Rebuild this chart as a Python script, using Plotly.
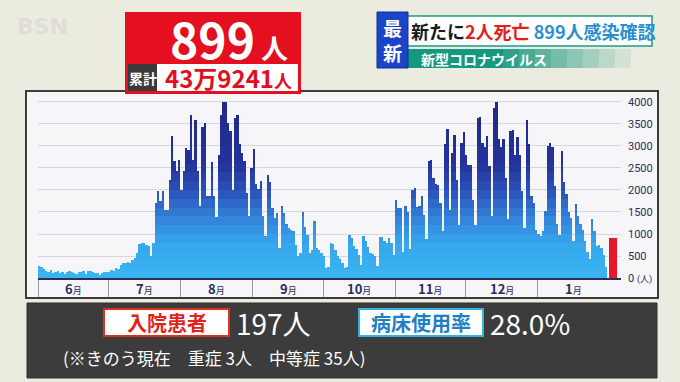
import plotly.graph_objects as go
import numpy as np

# ---------------- data (daily new cases, Jun 1 - Jan 30, plus today) ----------------
months = ["6月", "7月", "8月", "9月", "10月", "11月", "12月", "1月"]
jun = [270, 260, 200, 170, 140, 190, 110, 130, 150, 120, 140, 100, 130, 150, 140, 110, 90, 130, 140, 160,
       90, 170, 150, 140, 120, 110, 70, 120, 140, 130]
jul = [140, 180, 160, 230, 200, 300, 330, 340, 360, 330, 400, 450, 560, 780, 800, 790, 760, 720, 490, 800,
       1700, 1970, 1740, 1970, 1550, 1550, 2210, 3220, 2650, 2430, 2690]
aug = [1990, 2430, 2960, 2920, 3700, 2690, 3580, 2430, 1630, 3410, 3520, 1860, 1860, 2620, 1860, 1380, 2800,
       3710, 4000, 4000, 3520, 3330, 2000, 3640, 3700, 3030, 2820, 2650, 1930, 1400, 2490]
sep = [2940, 2140, 2010, 2200, 1400, 950, 2330, 2180, 1590, 1360, 1480, 680, 1630, 1480, 1210, 1140, 1100,
       1060, 760, 490, 570, 1500, 1150, 985, 570, 620, 1300, 680, 620, 570]
octo = [500, 230, 250, 800, 780, 640, 490, 420, 340, 230, 250, 970, 910, 720, 670, 530, 300, 950, 830, 700,
        570, 545, 490, 265, 925, 925, 830, 800, 910, 800, 530]
nov = [1780, 1580, 1580, 600, 1640, 1490, 660, 1990, 2050, 1610, 1630, 1870, 1420, 890, 2670, 2690, 2270,
       2140, 2120, 1700, 1060, 3030, 3390, 1550, 2850, 3240, 2210, 1200, 3070, 3320]
dec = [2800, 2560, 2560, 1780, 1200, 3620, 3650, 3070, 2970, 3220, 2540, 1400, 3870, 4000, 3150, 2970, 3150,
       2270, 1350, 3330, 3370, 2800, 3200, 2800, 1970, 1140, 3580, 3030, 1860, 1700, 1100]
jan = [1000, 950, 1060, 1530, 2990, 3070, 2970, 2080, 1210, 985, 2880, 2180, 1910, 1500, 1360, 830, 1680,
       1400, 1210, 1100, 830, 600, 420, 1330, 1060, 720, 740, 680, 530, 260]
today = 899
y_ticks = [0, 500, 1000, 1500, 2000, 2500, 3000, 3500, 4000]

daily = jun + jul + aug + sep + octo + nov + dec + jan
month_lists = [jun, jul, aug, sep, octo, nov, dec, jan]
month_len = [len(m) for m in month_lists]
month_len[-1] += 1  # January includes today's bar
starts = np.concatenate([[0], np.cumsum(month_len)[:-1]])
days = np.arange(len(daily))

# ---------------- geometry helpers (pixels -> paper) ----------------
W, H = 680, 382
L, R, T, B = 38, 59, 100, 104
PW, PH = W - L - R, H - T - B


def px(x):
    return (x - L) / PW


def py(y):
    return (H - B - y) / PH


# ---------------- vertical gradient via stacked bands ----------------
stops = [(0, (58, 182, 242)), (800, (54, 166, 236)), (1400, (50, 128, 216)), (2000, (42, 80, 184)),
         (2600, (36, 50, 154)), (4200, (33, 38, 136))]


def col_at(v):
    for (a, ca), (b, cb) in zip(stops[:-1], stops[1:]):
        if v <= b:
            t = (v - a) / (b - a)
            c = [round(ca[i] + (cb[i] - ca[i]) * t) for i in range(3)]
            return f"rgb({c[0]},{c[1]},{c[2]})"
    c = stops[-1][1]
    return f"rgb({c[0]},{c[1]},{c[2]})"


band = 200
vals = np.array(daily, dtype=float)
fig = go.Figure()
for lo in range(0, 4200, band):
    seg = np.clip(vals - lo, 0, band)
    fig.add_trace(go.Bar(x=days, y=seg, marker=dict(color=col_at(lo + band / 2), line=dict(width=0)),
                         hoverinfo="skip", showlegend=False))

fig.add_trace(go.Bar(x=[len(daily)], y=[today], width=3.43, offset=0.06,
                     marker=dict(color="#e8182a", line=dict(width=0)), showlegend=False, hoverinfo="skip"))

# ---------------- axes ----------------
x0 = -0.63
fig.update_xaxes(range=[x0, x0 + PW / 2.3336], showgrid=False, zeroline=False,
                 showline=True, linecolor="#2b2d5c", linewidth=1.5,
                 tickvals=list(starts - 0.5), ticks="outside", ticklen=17, tickcolor="#9a9aa4",
                 tickwidth=1, showticklabels=False)
fig.update_yaxes(range=[0, 4045], side="right", tickvals=y_ticks,
                 ticktext=[("0 <span style='font-size:9px'>(人)</span>" if v == 0 else str(v)) for v in y_ticks],
                 showgrid=True, gridcolor="#d6d6de", gridwidth=1, zeroline=False, ticks="",
                 tickfont=dict(family="Roboto, Noto Sans CJK JP", size=11, color="#2b2d5c"),
                 ticklabelstandoff=6)

fig.update_layout(width=W, height=H, margin=dict(l=L, r=R, t=T, b=B, autoexpand=False), barmode="stack",
                  bargap=0.22, paper_bgcolor="#ecebdf", plot_bgcolor="rgba(0,0,0,0)", showlegend=False,
                  font=dict(family="Noto Sans CJK JP"))

shapes = []
ann = []


def text(x, y, t, size, color, anchor="center", family="Noto Sans CJK JP", xref="paper", height=None):
    a = dict(x=x, y=y, xref=xref, yref="paper", showarrow=False, text=t, xanchor=anchor,
             yanchor="middle", font=dict(family=family, size=size, color=color))
    if height:
        a["height"] = height
        a["valign"] = "middle"
    ann.append(a)


def rect(x0_, x1_, y0_, y1_, fill, line=None, lw=0, layer="above", opacity=1):
    shapes.append(dict(type="rect", xref="paper", yref="paper", x0=px(x0_), x1=px(x1_), y0=py(y1_), y1=py(y0_),
                       fillcolor=fill, line=dict(color=line or fill, width=lw), layer=layer, opacity=opacity))


# chart panel
rect(26, 658, 91, 298, "#f6f6f8", "#3c3c3c", 2, layer="below")

# month labels
for i, m in enumerate(month_lists):
    center = starts[i] + (month_len[i] - 1) / 2
    num = months[i][:-1]
    text(center, py(288), f"<b>{num}</b><span style='font-size:9px'>月</span>", 13, "#2b2d5c", xref="x")

# BSN logo
text(px(42), py(26), "<b>BSN</b>", 22, "#deded6", family="DejaVu Sans")

# red headline box
rect(125, 301, 12, 94, "#e5101f")
text(px(229), py(38), "<b>899<span style='font-size:27px'> 人</span></b>", 48, "white", height=48)
rect(128, 157, 64, 91, "#3a3a3a")
text(px(142.5), py(77.5), "<b>累計</b>", 14, "white")
rect(157, 298, 64, 91, "white")
text(px(228), py(77.5), "<b>43万9241<span style='font-size:18px'>人</span></b>", 24, "#e0101e")

# top-right banner
rect(407, 652, 16, 46, "white", "#1d9c86", 1.5)
for k in range(14):
    a = 1.0 if k < 6 else 1.0 - (k - 5) / 9
    rect(407 + k * 16, 407 + (k + 1) * 16, 49, 68, "#16987f", opacity=max(a, 0.04))
rect(377, 408, 12, 68, "#1b44c6", "#0f2f9a", 1)
text(px(392.5), py(40), "<b>最<br>新</b>", 19, "white")
text(px(533), py(31),
     "<b>新たに<span style='color:#e3201c'>2人死亡</span> <span style='color:#2a8fd0'>899人感染確認</span></b>",
     18, "#1a1a1a")
text(px(419), py(59), "<b>新型コロナウイルス</b>", 14, "white", anchor="left")

# bottom info panel
rect(27, 657, 303, 378, "#3c3c3c", "#2e2e2e", 1)
rect(104, 229, 309, 336, "white", "#e0301e", 2)
text(px(166.5), py(322.5), "<b>入院患者</b>", 20, "#e0241c")
text(px(234), py(323), "197人", 28, "white", anchor="left")
rect(359, 483, 309, 336, "white", "#35b2e2", 2)
text(px(421), py(322.5), "<b>病床使用率</b>", 20, "#1e80c2")
text(px(488), py(323), "28.0%", 28, "white", anchor="left")
text(px(61), py(357), "(※きのう現在　重症 3人　中等症 35人)", 17, "white", anchor="left")

fig.update_layout(shapes=shapes, annotations=ann)
fig.write_html("out.html", config={"displayModeBar": False},
               post_script="document.body.style.margin='0';document.body.style.overflow='hidden';")
